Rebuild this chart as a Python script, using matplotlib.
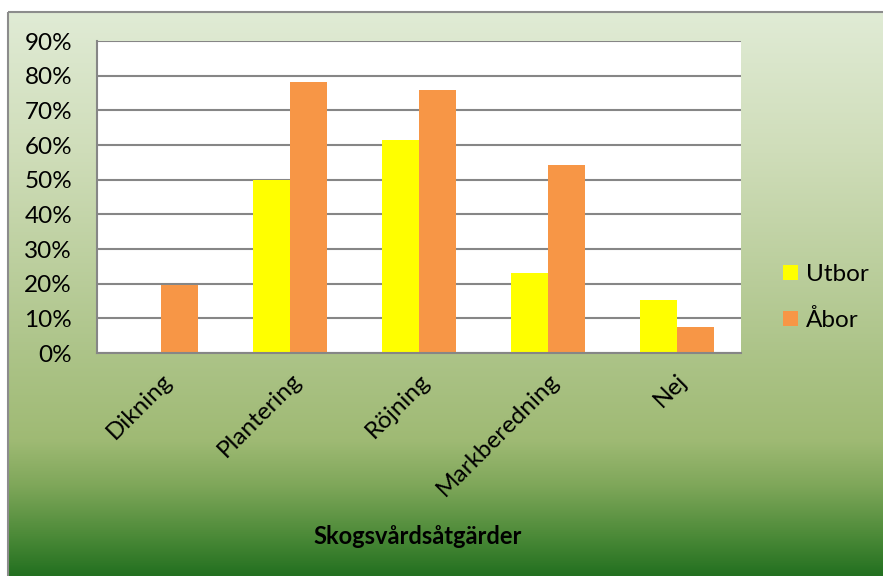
import numpy as np
import matplotlib
matplotlib.use("Agg")
import matplotlib.pyplot as plt
from matplotlib.colors import LinearSegmentedColormap
from matplotlib.patches import Rectangle

categories = ["Dikning", "Plantering", "Röjning", "Markberedning", "Nej"]
utbor = [0.0, 50.0, 61.3, 23.0, 15.2]
abor = [19.5, 78.1, 76.0, 54.3, 7.4]
series_names = ["Utbor", "Åbor"]
yticks = np.arange(0, 91, 10)

W, H = 883, 576
plt.rcParams["font.family"] = ["Lato", "DejaVu Sans"]

fig = plt.figure(figsize=(W / 100, H / 100), dpi=100)

# background gradient inside chart frame
bg = fig.add_axes([0, 0, 1, 1])
bg.set_xlim(0, W)
bg.set_ylim(H, 0)
bg.axis("off")
stops = [(0.0, "#e0ebd5"), (0.25, "#cfddb9"), (0.6, "#adc489"),
         (0.76, "#9fba74"), (0.84, "#7fa75a"), (0.93, "#4c8a38"), (1.0, "#237020")]
cmap = LinearSegmentedColormap.from_list("bg", stops)
grad = np.linspace(0, 1, 256).reshape(-1, 1)
bg.imshow(grad, cmap=cmap, aspect="auto", extent=[8, W, H, 12], zorder=0)
bg.add_patch(Rectangle((8, 12), W, H, fill=False, edgecolor="#8c8c8c", lw=1.5, zorder=1))

ax = fig.add_axes([97 / W, 1 - 353 / H, (741 - 97) / W, (353 - 41) / H])
ax.set_facecolor("white")
x = np.arange(len(categories))
w = 0.287
ax.bar(x - w / 2, utbor, w, color="#ffff00", label=series_names[0], zorder=2)
ax.bar(x + w / 2, abor, w, color="#f79646", label=series_names[1], zorder=2)

ax.set_xlim(-0.5, len(categories) - 0.5)
ax.set_ylim(0, 90)
ax.set_yticks(yticks)
ax.set_yticklabels([f"{v}%" for v in yticks], fontsize=17.5)
ax.yaxis.grid(True, color="#868686", lw=1.5, zorder=1)
ax.set_axisbelow(True)
ax.tick_params(axis="y", length=0, pad=18)
ax.tick_params(axis="x", length=0, pad=12)
ax.set_xticks(x)
ax.set_xticklabels(categories, rotation=45, ha="right", rotation_mode="anchor", fontsize=17.5)
for s in ["top", "right"]:
    ax.spines[s].set_visible(False)
for s in ["left", "bottom"]:
    ax.spines[s].set_color("#868686")
    ax.spines[s].set_linewidth(1.5)

fig.text(418 / W, 1 - 537 / H, "Skogsvårdsåtgärder", ha="center", va="center",
         fontsize=17, fontweight="bold")

leg = fig.legend(*ax.get_legend_handles_labels(), loc="center left",
                 bbox_to_anchor=(783 / W, 1 - 297.5 / H), frameon=False,
                 fontsize=17.5, handlelength=0.6, handleheight=0.6, labelspacing=1.0,
                 handletextpad=0.35, borderpad=0, borderaxespad=0)

fig.savefig("out.png", dpi=100)
